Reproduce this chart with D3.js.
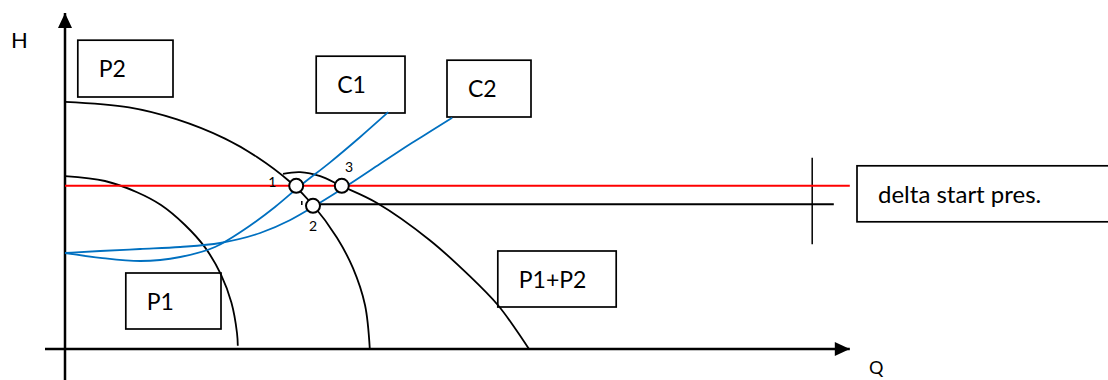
<!DOCTYPE html>
<html>
<head>
<meta charset="utf-8">
<script src="https://cdn.jsdelivr.net/npm/d3@7"></script>
<style>
  html, body { margin: 0; padding: 0; background: #fff; overflow: hidden; }
  svg { display: block; }
  text { font-family: Lato, "Open Sans", sans-serif; fill: #000; }
</style>
</head>
<body>
<svg id="svg" width="1108" height="380"></svg>
<script>
// pump curves [Q, H]
var pump1 = [[0,21.6],[5,21.0],[9,19.6],[12,18.0],[15,15.5],[17.5,12.7],[19.5,9.3],[20.8,5.8],[21.5,2.0],[21.6,0.4]];
var pump2 = [[0,30.9],[8,30.2],[14,28.7],[20,26.3],[24,24.0],[28,21.0],[31,18.0],[34,13.9],[36,10.1],[37.5,5.5],[38.1,0]];
var pumpSum = [[27.25,21.9],[29.4,22.1],[31.9,21.6],[34.5,20.4],[39.0,18.25],[45.6,13.6],[50.6,9.1],[54.1,5.5],[56.25,2.6],[58.0,0]];

// system curves
var sysC1 = [[0,12.0],[4.4,11.4],[9.4,11.0],[14.4,11.5],[18.75,12.75],[23.1,15.4],[26.25,17.75],[29.4,20.4],[33.1,23.3],[36.9,26.5],[40.4,29.6]];
var sysC2 = [[0,12.0],[4.4,12.25],[9.4,12.5],[14.4,12.75],[19.4,13.25],[24.4,14.5],[28.1,16.1],[31.4,18.0],[35.25,20.4],[39.4,23.15],[43.1,25.6],[45.6,27.15],[48.4,28.9]];

// operating points
var opPoints = [{id:"1", q:28.9, h:20.4, lq:25.4, lh:20.25},
                {id:"2", q:31.0, h:17.9, lq:30.5, lh:14.75},
                {id:"3", q:34.6, h:20.4, lq:35.0, lh:22.1}];

// level lines
var startLevel = 20.4;      // red
var stopLevel = 18.1;       // black
var levelEndQ = [98.1, 96.1];
var markerQ = 93.4, markerH = [13.1, 23.9];

// labelled boxes [q0, q1], [hTop, hBottom]
var boxNames = ["P2", "C1", "C2", "P1", "P1+P2", "delta start pres."];
var boxQ = [[1.6,13.5],[31.4,42.5],[47.75,58.25],[7.6,19.5],[54.1,68.9],[99,130.6]];
var boxH = [[38.6,31.5],[36.6,29.5],[36.1,29.0],[9.5,2.5],[12.25,5.25],[22.9,15.9]];

var svg = d3.select('#svg');

var x = d3.scaleLinear().domain([0,100]).range([65,865]);
var y = d3.scaleLinear().domain([0,40]).range([349,29]);

var pumpLine = d3.line()
    .x(function(d){ return x(d[0]); })
    .y(function(d){ return y(d[1]); })
    .curve(d3.curveCatmullRom);
var sysLine = d3.line()
    .x(function(d){ return x(d[0]); })
    .y(function(d){ return y(d[1]); })
    .curve(d3.curveMonotoneX);

// boxes
var boxes = svg.append("g");
boxNames.forEach(function(name,i){
    var x0 = x(boxQ[i][0]), x1 = x(boxQ[i][1]);
    var y0 = y(boxH[i][0]), y1 = y(boxH[i][1]);
    boxes.append("rect")
        .attr("x",x0).attr("y",y0)
        .attr("width",x1-x0).attr("height",y1-y0)
        .attr("fill","none").attr("stroke","#000").attr("stroke-width",1.7);
    boxes.append("text")
        .attr("x",x0+21).attr("y",y0+37)
        .attr("font-size",i==5 ? 24 : 23)
        .text(name);
});

// axes
svg.append("line")
    .attr("x1",x(-2.5)).attr("x2",x(98.1))
    .attr("y1",y(0)).attr("y2",y(0))
    .attr("stroke","#000").attr("stroke-width",2.5);
svg.append("line")
    .attr("x1",x(0)).attr("x2",x(0))
    .attr("y1",y(-4)).attr("y2",y(42))
    .attr("stroke","#000").attr("stroke-width",2.5);
svg.append("path")
    .attr("d","M"+x(98.1)+","+y(0)+"l-15,-7l0,14z")
    .attr("fill","#000");
svg.append("path")
    .attr("d","M"+x(0)+","+y(42)+"l-7,15l14,0z")
    .attr("fill","#000");
svg.append("text").attr("x",11).attr("y",48).attr("font-size",22).text("H");
svg.append("text").attr("x",869).attr("y",374).attr("font-size",18).text("Q");

// level lines
svg.append("line")
    .attr("x1",x(31.9)).attr("x2",x(levelEndQ[1]))
    .attr("y1",y(stopLevel)).attr("y2",y(stopLevel))
    .attr("stroke","#000").attr("stroke-width",2);
svg.append("line")
    .attr("x1",x(markerQ)).attr("x2",x(markerQ))
    .attr("y1",y(markerH[0])).attr("y2",y(markerH[1]))
    .attr("stroke","#000").attr("stroke-width",1.5);

// pump curves
[pump1, pump2, pumpSum].forEach(function(c){
    svg.append("path").datum(c)
        .attr("d",pumpLine)
        .attr("fill","none").attr("stroke","#000").attr("stroke-width",1.8);
});

svg.append("line")
    .attr("x1",x(0)).attr("x2",x(levelEndQ[0]))
    .attr("y1",y(startLevel)).attr("y2",y(startLevel))
    .attr("stroke","#ff0000").attr("stroke-width",2);

// system curves
[sysC1, sysC2].forEach(function(c){
    svg.append("path").datum(c)
        .attr("d",sysLine)
        .attr("fill","none").attr("stroke","#0070c0").attr("stroke-width",1.8);
});

// small tick beside point 2
svg.append("line")
    .attr("x1",x(29.6)).attr("x2",x(29.6))
    .attr("y1",y(18.5)).attr("y2",y(18.0))
    .attr("stroke","#000").attr("stroke-width",1.5);

// operating points
svg.selectAll("circle.op").data(opPoints).enter()
    .append("circle")
    .attr("cx",function(d){ return x(d.q); })
    .attr("cy",function(d){ return y(d.h); })
    .attr("r",7)
    .attr("fill","#fff").attr("stroke","#000").attr("stroke-width",2);
svg.selectAll("text.op").data(opPoints).enter()
    .append("text")
    .attr("x",function(d){ return x(d.lq); })
    .attr("y",function(d){ return y(d.lh); })
    .attr("font-size",14)
    .text(function(d){ return d.id; });
</script>
</body>
</html>
